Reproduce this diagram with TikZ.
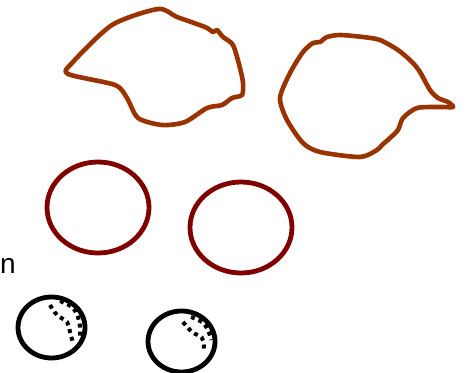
\documentclass[tikz,border=0pt]{standalone}
\usepackage{fontspec}
\setmainfont{Liberation Sans}
\usetikzlibrary{shapes.geometric}
\definecolor{rust}{HTML}{993300}
\definecolor{darkmaroon}{HTML}{800000}
\tikzset{
  blob/.style={draw=rust, line width=4.6pt, line join=round},
  ring/.style={draw=darkmaroon, line width=4.8pt, ellipse, inner sep=0pt},
  ball/.style={draw=black, line width=4.8pt, ellipse, inner sep=0pt},
  seam/.style={line width=4pt, dash pattern=on 4pt off 4pt}
}

\begin{document}
\begin{tikzpicture}[x=1pt, y=-1pt]
  \useasboundingbox (0,0) rectangle (467,373);
  % irregular shapes at the top
  \draw[blob] plot[smooth cycle, tension=0.45] coordinates {
    (158,9) (177,17) (205,27) (213,32) (217,30) (223,37) (233,45) (240,68)
    (243,83) (242,95) (232,98) (222,105) (207,108) (185,122) (162,125)
    (138,118) (127,98) (115,85) (68,74) (72,63) (112,25)};
  \draw[blob] plot[smooth cycle, tension=0.45] coordinates {
    (340,35) (363,37) (380,40) (398,50) (412,62) (420,72) (430,90) (438,98)
    (448,102) (453,107) (440,107) (417,108) (403,118) (398,130) (390,138)
    (382,145) (377,150) (360,157) (320,152) (303,143) (287,120) (280,98)
    (290,73) (303,52) (313,43) (320,42) (327,37)};
  % rings
  \node[ring, minimum width=102pt, minimum height=91pt] (r1) at (98,207.5) {};
  \node[ring, minimum width=102pt, minimum height=91pt] (r2) at (241,227.5) {};
  % label
  \node[anchor=base west, inner sep=0pt, font=\fontsize{28}{28}\selectfont] (lbl) at (0,273) {n};
  % balls with seams
  \node[ball, minimum width=67pt, minimum height=61pt] (b1) at (51.5,327.5) {};
  \node[ball, minimum width=67pt, minimum height=61pt] (b2) at (181.5,341.5) {};
  \draw[seam] plot[smooth, tension=0.6] coordinates {(50,305) (57,315) (67,322) (70,332) (73,343)};
  \draw[seam] plot[smooth, tension=0.6] coordinates {(60,301) (72,307) (78,317) (80,327) (80,336)};
  \draw[seam] plot[smooth, tension=0.6] coordinates {(183,322) (192,332) (202,338) (204,350)};
  \draw[seam] plot[smooth, tension=0.6] coordinates {(191,317) (202,322) (208,330) (211,340)};
\end{tikzpicture}
\end{document}
